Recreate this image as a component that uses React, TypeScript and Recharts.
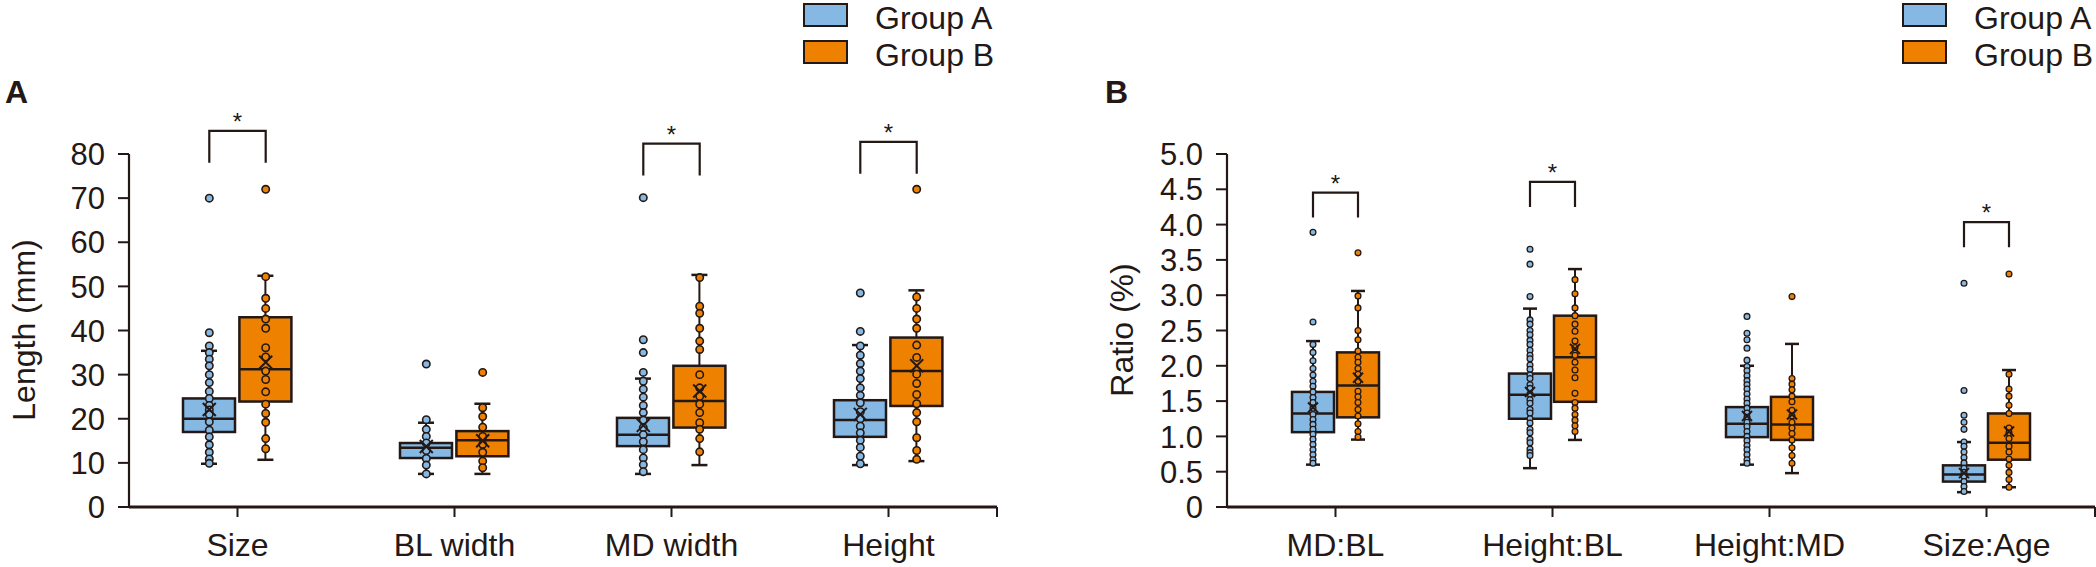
import React from 'react'
import { ComposedChart, Bar, Scatter, XAxis, YAxis, Legend } from 'recharts'

const INK = '#231815'
const COLOR_A = '#85B9E3'
const COLOR_B = '#EE8200'
const FONT = '"Liberation Sans", Arial, Helvetica, sans-serif'

const groupNames = ['Group A', 'Group B']

// ---- Panel A: lengths (mm) ----
const lengthCats = ['Size', 'BL width', 'MD width', 'Height']
const lengthTicks = [0, 10, 20, 30, 40, 50, 60, 70, 80]
// [min, q1, median, q3, max]
const lengthBoxA = [
  [9.8, 17.0, 20.0, 24.6, 35.4],
  [7.5, 11.1, 13.4, 14.5, 19.1],
  [7.5, 13.8, 16.4, 20.2, 29.1],
  [9.5, 15.9, 19.7, 24.2, 36.7],
]
const lengthBoxB = [
  [10.7, 23.9, 31.2, 43.0, 52.4],
  [7.5, 11.5, 15.1, 17.2, 23.4],
  [9.5, 18.0, 24.0, 32.0, 52.6],
  [10.4, 22.9, 30.8, 38.4, 49.1],
]
const lengthMeanA = [22.1, 13.7, 18.5, 21.0]
const lengthMeanB = [32.8, 15.0, 26.3, 32.0]
const lengthDotsA = [
  [70, 39.5, 36.5, 35, 33.5, 32, 30, 28.2, 26.2, 24.6, 23, 22, 21, 19.3, 17.4, 15.9, 14.1, 12.4, 10.9, 9.9],
  [32.4, 19.8, 17.6, 16, 14.5, 12.8, 11, 9.5, 7.5],
  [70.1, 37.9, 35, 30.5, 28.5, 26.7, 24.9, 23, 21.4, 19.7, 18, 16.4, 14.8, 13, 11.1, 9.6, 8],
  [48.5, 39.8, 36.5, 34.4, 32.5, 30.8, 29.1, 27, 25.3, 23.6, 21.6, 20, 18.3, 16.8, 15.1, 13.5, 11.5, 9.8],
]
const lengthDotsB = [
  [72, 52.2, 47.3, 45, 42.6, 40.5, 36.1, 34, 30.8, 28.9, 26.1, 23.3, 21.2, 19.2, 15.5, 13.2],
  [30.5, 22.5, 20.5, 18.1, 16, 14.2, 12.4, 10.4, 8.9],
  [52, 45.5, 43.9, 40.5, 37.6, 35.7, 30, 27, 25.1, 23.3, 21.4, 19.1, 17.6, 15.5, 12.5],
  [72, 47.6, 45, 42.6, 40.5, 36.7, 33.9, 30.1, 28, 25.5, 23.4, 21.4, 19.3, 15.7, 12.8, 10.8],
]
// foot of the significance bracket (null = no bracket)
const lengthSig = [78, null, 75.1, 75.5]

// ---- Panel B: ratios (%) ----
const ratioCats = ['MD:BL', 'Height:BL', 'Height:MD', 'Size:Age']
const ratioTicks = [0, 0.5, 1, 1.5, 2, 2.5, 3, 3.5, 4, 4.5, 5]
const ratioBoxA = [
  [0.6, 1.06, 1.325, 1.63, 2.35],
  [0.55, 1.25, 1.59, 1.89, 2.81],
  [0.6, 0.99, 1.18, 1.415, 2.0],
  [0.21, 0.36, 0.46, 0.59, 0.92],
]
const ratioBoxB = [
  [0.955, 1.27, 1.72, 2.19, 3.06],
  [0.95, 1.49, 2.12, 2.71, 3.37],
  [0.48, 0.95, 1.17, 1.56, 2.31],
  [0.28, 0.67, 0.91, 1.325, 1.94],
]
const ratioMeanA = [1.41, 1.63, 1.29, 0.48]
const ratioMeanB = [1.83, 2.24, 1.31, 1.07]
const ratioDotsA = [
  [3.89, 2.62, 2.3, 2.19, 2.07, 1.96, 1.87, 1.78, 1.71, 1.63, 1.55, 1.48, 1.4, 1.31, 1.24, 1.17, 1.1, 1.03, 0.96, 0.885, 0.81, 0.74, 0.67, 0.62],
  [3.65, 3.44, 2.98, 2.65, 2.59, 2.5, 2.44, 2.36, 2.3, 2.22, 2.15, 2.1, 2.01, 1.95, 1.87, 1.82, 1.73, 1.68, 1.6, 1.52, 1.47, 1.38, 1.33, 1.25, 1.19, 1.1, 1.05, 0.96, 0.91, 0.82, 0.77, 0.73],
  [2.7, 2.46, 2.37, 2.25, 2.08, 1.99, 1.93, 1.86, 1.79, 1.73, 1.67, 1.6, 1.53, 1.47, 1.4, 1.33, 1.27, 1.2, 1.14, 1.07, 1.0, 0.94, 0.87, 0.81, 0.74, 0.67, 0.62],
  [3.17, 1.65, 1.3, 1.2, 1.1, 0.92, 0.86, 0.78, 0.7, 0.625, 0.55, 0.49, 0.435, 0.36, 0.29, 0.22],
]
const ratioDotsB = [
  [3.6, 2.99, 2.82, 2.5, 2.37, 2.21, 2.12, 2.05, 1.96, 1.88, 1.78, 1.64, 1.56, 1.48, 1.38, 1.29, 1.18, 1.07, 0.99],
  [3.22, 3.02, 2.82, 2.71, 2.59, 2.49, 2.35, 2.26, 2.15, 2.05, 1.94, 1.83, 1.61, 1.48, 1.4, 1.31, 1.23, 1.15, 1.07],
  [2.98, 1.82, 1.74, 1.66, 1.57, 1.49, 1.37, 1.29, 1.2, 1.12, 1.04, 0.95, 0.84, 0.73, 0.62],
  [3.3, 1.88, 1.67, 1.57, 1.44, 1.325, 1.12, 1.05, 0.97, 0.86, 0.78, 0.68, 0.59, 0.49, 0.39, 0.28],
]
const ratioSig = [4.1, 4.25, null, 3.68]

interface PanelProps {
  cats: string[]
  boxA: number[][]
  boxB: number[][]
  meanA: number[]
  meanB: number[]
  dotsA: number[][]
  dotsB: number[][]
  sig: (number | null)[]
  ticks: number[]
  fmt: (v: number) => string
  left: number
  yWidth: number
  marginRight: number
  barSize: number
  barGap: number
  dotR: number
  capW: number
  cross: number
  drop: number
  legendLeft: number
}

const CHART_W = 1048
const CHART_H = 567

// box + whiskers, the box itself comes from the bar's [q1, q3] range
function BoxShape(props: any) {
  const { x, y, width, height, stats, fill, capW } = props
  if (!stats || x == null || y == null) return null
  const [mn, q1, md, q3, mx] = stats
  const py = (v: number) => y + (height * (q3 - v)) / (q3 - q1)
  const cx = x + width / 2
  return (
    <g>
      <line x1={cx} x2={cx} y1={py(mx)} y2={py(q3)} stroke={INK} strokeWidth={2} />
      <line x1={cx} x2={cx} y1={py(q1)} y2={py(mn)} stroke={INK} strokeWidth={2} />
      <line x1={cx - capW / 2} x2={cx + capW / 2} y1={py(mx)} y2={py(mx)} stroke={INK} strokeWidth={2.5} />
      <line x1={cx - capW / 2} x2={cx + capW / 2} y1={py(mn)} y2={py(mn)} stroke={INK} strokeWidth={2.5} />
      <rect x={x} y={y} width={width} height={height} fill={fill} stroke={INK} strokeWidth={2.5} />
      <line x1={x} x2={x + width} y1={py(md)} y2={py(md)} stroke={INK} strokeWidth={2.5} />
    </g>
  )
}

function LegendBox() {
  const colors = [COLOR_A, COLOR_B]
  return (
    <div style={{ position: 'relative', width: 260, height: 74, fontFamily: FONT, color: INK }}>
      {groupNames.map((n, i) => (
        <React.Fragment key={n}>
          <div
            style={{
              position: 'absolute', left: 0, top: 3 + i * 37, width: 45, height: 24,
              boxSizing: 'border-box', border: `2.5px solid ${INK}`, background: colors[i],
            }}
          />
          <div
            style={{
              position: 'absolute', left: 72, top: 1 + i * 37, fontSize: 32, lineHeight: '34px', whiteSpace: 'nowrap',
            }}
          >
            {n}
          </div>
        </React.Fragment>
      ))}
    </div>
  )
}

const rangeOf = (key: 'a' | 'b') => (r: any) => (r && r[key] ? [r[key][1], r[key][3]] : null)

function Panel(p: PanelProps) {
  const rows = p.cats.map((c, i) => ({ cat: c, a: p.boxA[i], b: p.boxB[i] }))
  const half = (p.barSize + p.barGap) / 2
  const dots = (d: number[][]) => p.cats.flatMap((c, i) => d[i].map(v => ({ cat: c, v })))
  const means = (m: number[]) => p.cats.map((c, i) => ({ cat: c, v: m[i] }))
  const sigRows = p.cats.map((c, i) => ({ cat: c, v: p.sig[i] })).filter(d => d.v !== null)
  const plotW = CHART_W - p.yWidth - p.marginRight
  const band = plotW / p.cats.length

  const dotShape = (off: number, fill: string) => (s: any) =>
    <circle cx={s.cx + off} cy={s.cy} r={p.dotR} fill={fill} stroke={INK} strokeWidth={p.dotR > 3.3 ? 1.6 : 1.3} />
  const crossShape = (off: number) => (s: any) => {
    const c = p.cross
    return (
      <g stroke={INK} strokeWidth={2}>
        <line x1={s.cx + off - c} x2={s.cx + off + c} y1={s.cy - c} y2={s.cy + c} />
        <line x1={s.cx + off - c} x2={s.cx + off + c} y1={s.cy + c} y2={s.cy - c} />
      </g>
    )
  }
  const sigShape = (s: any) => {
    const top = s.cy - p.drop
    return (
      <g>
        <path
          d={`M${s.cx - half},${s.cy} L${s.cx - half},${top} L${s.cx + half},${top} L${s.cx + half},${s.cy}`}
          fill="none" stroke={INK} strokeWidth={2.2}
        />
        <text x={s.cx} y={top - 1} textAnchor="middle" fontSize={24} fontFamily={FONT} fill={INK}>*</text>
      </g>
    )
  }

  const XTick = (t: any) => {
    const last = t.index === p.cats.length - 1
    return (
      <g>
        <text x={t.x} y={t.y + 23} textAnchor="middle" fontSize={32} fontFamily={FONT} fill={INK}>
          {t.payload.value}
        </text>
        {last && (
          <line x1={t.x + band / 2} x2={t.x + band / 2} y1={t.y - 26} y2={t.y - 16} stroke={INK} strokeWidth={2} />
        )}
      </g>
    )
  }
  const YTick = (t: any) => (
    <text x={t.x} y={t.y} dy="0.36em" textAnchor="end" fontSize={31} fontFamily={FONT} fill={INK}>
      {p.fmt(t.payload.value)}
    </text>
  )

  return (
    <div style={{ position: 'absolute', left: p.left, top: 0 }}>
      <ComposedChart
        width={CHART_W}
        height={CHART_H}
        data={rows}
        margin={{ top: 154, right: p.marginRight, bottom: 0, left: 0 }}
        barSize={p.barSize}
        barGap={p.barGap}
      >
        <XAxis
          dataKey="cat"
          type="category"
          allowDuplicatedCategory={false}
          interval={0}
          height={60}
          tickSize={10}
          tickMargin={16}
          axisLine={{ stroke: INK, strokeWidth: 3 }}
          tickLine={{ stroke: INK, strokeWidth: 2 }}
          tick={<XTick />}
        />
        <YAxis
          type="number"
          domain={[p.ticks[0], p.ticks[p.ticks.length - 1]]}
          ticks={p.ticks}
          interval={0}
          width={p.yWidth}
          tickSize={11}
          tickMargin={13}
          axisLine={{ stroke: INK, strokeWidth: 2.2 }}
          tickLine={{ stroke: INK, strokeWidth: 2 }}
          tick={<YTick />}
        />
        <Legend
          layout="vertical"
          align="center"
          verticalAlign="middle"
          wrapperStyle={{ left: p.legendLeft, top: 0, width: 260, height: 74 }}
          content={() => <LegendBox />}
        />
        <Bar
          name={groupNames[0]}
          dataKey={rangeOf('a')}
          fill={COLOR_A}
          isAnimationActive={false}
          shape={(s: any) => <BoxShape {...s} stats={s.payload && s.payload.a} fill={COLOR_A} capW={p.capW} />}
        />
        <Bar
          name={groupNames[1]}
          dataKey={rangeOf('b')}
          fill={COLOR_B}
          isAnimationActive={false}
          shape={(s: any) => <BoxShape {...s} stats={s.payload && s.payload.b} fill={COLOR_B} capW={p.capW} />}
        />
        <Scatter data={dots(p.dotsA)} dataKey="v" isAnimationActive={false} shape={dotShape(-half, COLOR_A)} legendType="none" />
        <Scatter data={dots(p.dotsB)} dataKey="v" isAnimationActive={false} shape={dotShape(half, COLOR_B)} legendType="none" />
        <Scatter data={means(p.meanA)} dataKey="v" isAnimationActive={false} shape={crossShape(-half)} legendType="none" />
        <Scatter data={means(p.meanB)} dataKey="v" isAnimationActive={false} shape={crossShape(half)} legendType="none" />
        <Scatter data={sigRows} dataKey="v" isAnimationActive={false} shape={sigShape} legendType="none" />
      </ComposedChart>
    </div>
  )
}

export default function App() {
  return (
    <div style={{ position: 'absolute', left: 0, top: 0, width: 2096, height: 567, background: '#fff', overflow: 'hidden' }}>
      <Panel
        cats={lengthCats} boxA={lengthBoxA} boxB={lengthBoxB} meanA={lengthMeanA} meanB={lengthMeanB}
        dotsA={lengthDotsA} dotsB={lengthDotsB} sig={lengthSig} ticks={lengthTicks} fmt={v => String(v)}
        left={0} yWidth={129} marginRight={51} barSize={52} barGap={4.4} dotR={3.7} capW={16} cross={6.5} drop={32}
        legendLeft={803}
      />
      <Panel
        cats={ratioCats} boxA={ratioBoxA} boxB={ratioBoxB} meanA={ratioMeanA} meanB={ratioMeanB}
        dotsA={ratioDotsA} dotsB={ratioDotsB} sig={ratioSig} ticks={ratioTicks} fmt={v => (v === 0 ? '0' : v.toFixed(1))}
        left={1048} yWidth={179} marginRight={1} barSize={42} barGap={3} dotR={2.9} capW={14} cross={5} drop={25}
        legendLeft={854}
      />
      <svg width={2096} height={567} style={{ position: 'absolute', left: 0, top: 0, pointerEvents: 'none' }}>
        <text x={5} y={103} fontSize={32} fontWeight="bold" fontFamily={FONT} fill={INK}>A</text>
        <text x={1105} y={103} fontSize={32} fontWeight="bold" fontFamily={FONT} fill={INK}>B</text>
        <text x={35} y={330} transform="rotate(-90 35 330)" textAnchor="middle" fontSize={32} fontFamily={FONT} fill={INK}>
          Length (mm)
        </text>
        <text x={1133} y={330} transform="rotate(-90 1133 330)" textAnchor="middle" fontSize={32} fontFamily={FONT} fill={INK}>
          Ratio (%)
        </text>
      </svg>
    </div>
  )
}
